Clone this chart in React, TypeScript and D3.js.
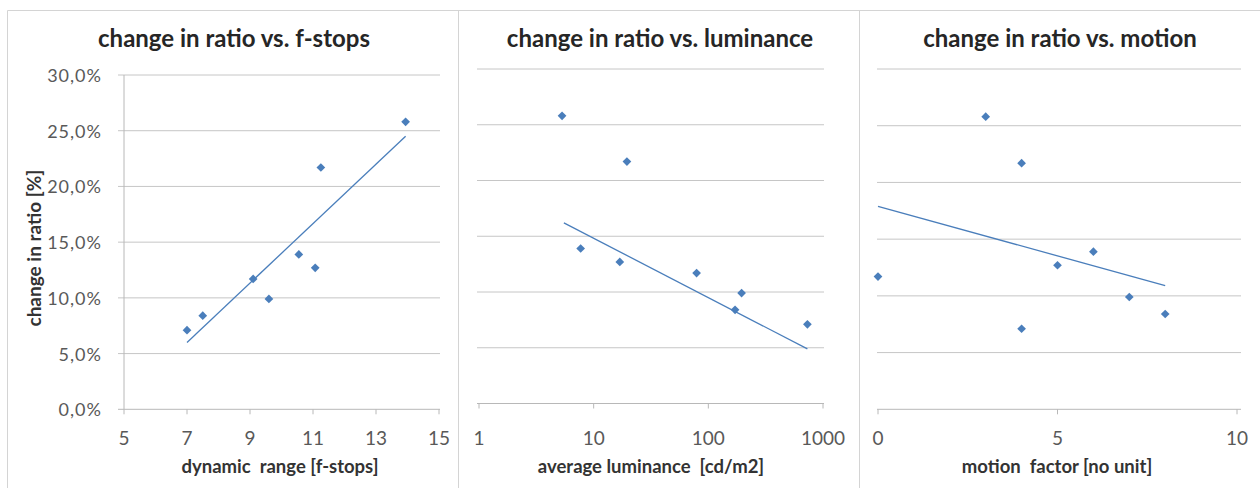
import React from "react";
import * as d3 from "d3";

// ---- data ----
const ratioFstops = [7.1, 8.4, 11.7, 9.9, 13.9, 12.7, 21.7, 25.8];
const fstops = [7, 7.5, 9.1, 9.6, 10.55, 11.07, 11.25, 13.94];
const fstopTrend = [[7, 6.0], [13.94, 24.5]];

const luminance = [5.3, 7.7, 16.9, 19.5, 79, 171, 195, 731];
const ratioLum = [25.8, 13.9, 12.7, 21.7, 11.7, 8.4, 9.9, 7.1];
const lumTrend = [[5.5, 16.2], [731, 4.9]];

const motion = [0, 3, 4, 4, 5, 6, 7, 8];
const ratioMotion = [11.7, 25.8, 21.7, 7.1, 12.7, 13.9, 9.9, 8.4];
const motionTrend = [[0, 17.9], [8, 10.9]];

const yTicks = [0, 5, 10, 15, 20, 25, 30];
const fstopTicks = [5, 7, 9, 11, 13, 15];
const lumTicks = [1, 10, 100, 1000];
const motionTicks = [0, 5, 10];

const titles = [
  "change in ratio vs. f-stops",
  "change in ratio vs. luminance",
  "change in ratio vs. motion",
];
const xTitles = [
  "dynamic  range [f-stops]",
  "average luminance  [cd/m2]",
  "motion  factor [no unit]",
];
const yTitle = "change in ratio [%]";

const BLUE = "#4a7ebb";
const GRID = "#c6c6c6";
const FONT = "Lato, 'Open Sans', sans-serif";

type PanelProps = {
  xs: number[];
  ys: number[];
  trend: number[][];
  xScale: any;
  yScale: any;
  xTicks: number[];
  gridX: [number, number];
  title: string;
  titleX: number;
  xTitle: string;
  xTitleX: number;
  showYAxis: boolean;
  fmtX: (v: number) => string;
};

function Panel(p: PanelProps) {
  const y0 = p.yScale(0);
  const diamond = d3.symbol().type(d3.symbolSquare).size(38)();
  const line = d3
    .line<number[]>()
    .x((d) => p.xScale(d[0]))
    .y((d) => p.yScale(d[1]));
  return (
    <g>
      <text
        x={p.titleX}
        y={37}
        textAnchor="middle"
        dominantBaseline="central"
        fontFamily={FONT}
        fontWeight="bold"
        fontSize={24}
        fill="#262626"
      >
        {p.title}
      </text>
      {yTicks.map((t) => (
        <line
          key={"g" + t}
          x1={p.showYAxis ? p.gridX[0] - 6 : p.gridX[0]}
          x2={p.gridX[1]}
          y1={p.yScale(t)}
          y2={p.yScale(t)}
          stroke={t === 0 ? "#b8b8b8" : GRID}
          strokeWidth={1}
        />
      ))}
      {p.showYAxis && (
        <line
          x1={p.xScale(p.xTicks[0])}
          x2={p.xScale(p.xTicks[0])}
          y1={p.yScale(30)}
          y2={y0}
          stroke="#b8b8b8"
        />
      )}
      {p.showYAxis &&
        yTicks.map((t) => (
          <text
            key={"yl" + t}
            x={102}
            y={p.yScale(t)}
            textAnchor="end"
            dominantBaseline="central"
            fontFamily={FONT}
            fontSize={18}
            letterSpacing={1}
            fill="#595959"
          >
            {t.toFixed(1).replace(".", ",") + "%"}
          </text>
        ))}
      {p.xTicks.map((t) => (
        <g key={"xt" + t}>
          <line
            x1={p.xScale(t)}
            x2={p.xScale(t)}
            y1={y0}
            y2={y0 + 5}
            stroke="#b8b8b8"
          />
          <text
            x={p.xScale(t)}
            y={437}
            textAnchor="middle"
            dominantBaseline="central"
            fontFamily={FONT}
            fontSize={19}
            fill="#595959"
          >
            {p.fmtX(t)}
          </text>
        </g>
      ))}
      <text
        x={p.xTitleX}
        y={466}
        textAnchor="middle"
        dominantBaseline="central"
        fontFamily={FONT}
        fontWeight="bold"
        fontSize={18.5}
        fill="#333333"
        style={{ whiteSpace: "pre" }}
      >
        {p.xTitle}
      </text>
      <path d={line(p.trend) || ""} stroke={BLUE} strokeWidth={1.3} fill="none" />
      {p.xs.map((x, i) => (
        <path
          key={"p" + i}
          d={diamond || ""}
          transform={`translate(${p.xScale(x)},${p.yScale(p.ys[i])}) rotate(45)`}
          fill={BLUE}
        />
      ))}
    </g>
  );
}

export default function App() {
  const x1 = d3.scaleLinear().domain([5, 15]).range([124, 439]);
  const y1 = d3.scaleLinear().domain([0, 30]).range([409.3, 75]);
  const x2 = d3.scaleLog().domain([1, 1000]).range([479, 823]);
  const y2 = d3.scaleLinear().domain([0, 30]).range([403.5, 69]);
  const x3 = d3.scaleLinear().domain([0, 10]).range([878, 1237]);
  const y3 = d3.scaleLinear().domain([0, 30]).range([409.3, 69]);
  const BORDER = "#d4d4d4";
  return (
    <svg
      width={1260}
      height={488}
      style={{ position: "absolute", left: 0, top: 0, background: "#ffffff" }}
    >
      <rect x={0} y={0} width={1260} height={488} fill="#ffffff" />
      <line x1={7.5} x2={1260} y1={10.5} y2={10.5} stroke={BORDER} />
      <line x1={7.5} x2={7.5} y1={10.5} y2={488} stroke={BORDER} />
      <line x1={458.5} x2={458.5} y1={10.5} y2={488} stroke={BORDER} />
      <line x1={859.5} x2={859.5} y1={10.5} y2={488} stroke={BORDER} />
      <text
        transform={`translate(33,${(y1(0) + y1(30)) / 2 + 6}) rotate(-90)`}
        textAnchor="middle"
        dominantBaseline="central"
        fontFamily={FONT}
        fontWeight="bold"
        fontSize={19}
        fill="#333333"
      >
        {yTitle}
      </text>
      <Panel
        xs={fstops}
        ys={ratioFstops}
        trend={fstopTrend}
        xScale={x1}
        yScale={y1}
        xTicks={fstopTicks}
        gridX={[124, 440]}
        title={titles[0]}
        titleX={234}
        xTitle={xTitles[0]}
        xTitleX={280}
        showYAxis={true}
        fmtX={(v) => String(v)}
      />
      <Panel
        xs={luminance}
        ys={ratioLum}
        trend={lumTrend}
        xScale={x2}
        yScale={y2}
        xTicks={lumTicks}
        gridX={[477, 824]}
        title={titles[1]}
        titleX={660}
        xTitle={xTitles[1]}
        xTitleX={651}
        showYAxis={false}
        fmtX={(v) => String(v)}
      />
      <Panel
        xs={motion}
        ys={ratioMotion}
        trend={motionTrend}
        xScale={x3}
        yScale={y3}
        xTicks={motionTicks}
        gridX={[877, 1241]}
        title={titles[2]}
        titleX={1060}
        xTitle={xTitles[2]}
        xTitleX={1057}
        showYAxis={false}
        fmtX={(v) => String(v)}
      />
    </svg>
  );
}
